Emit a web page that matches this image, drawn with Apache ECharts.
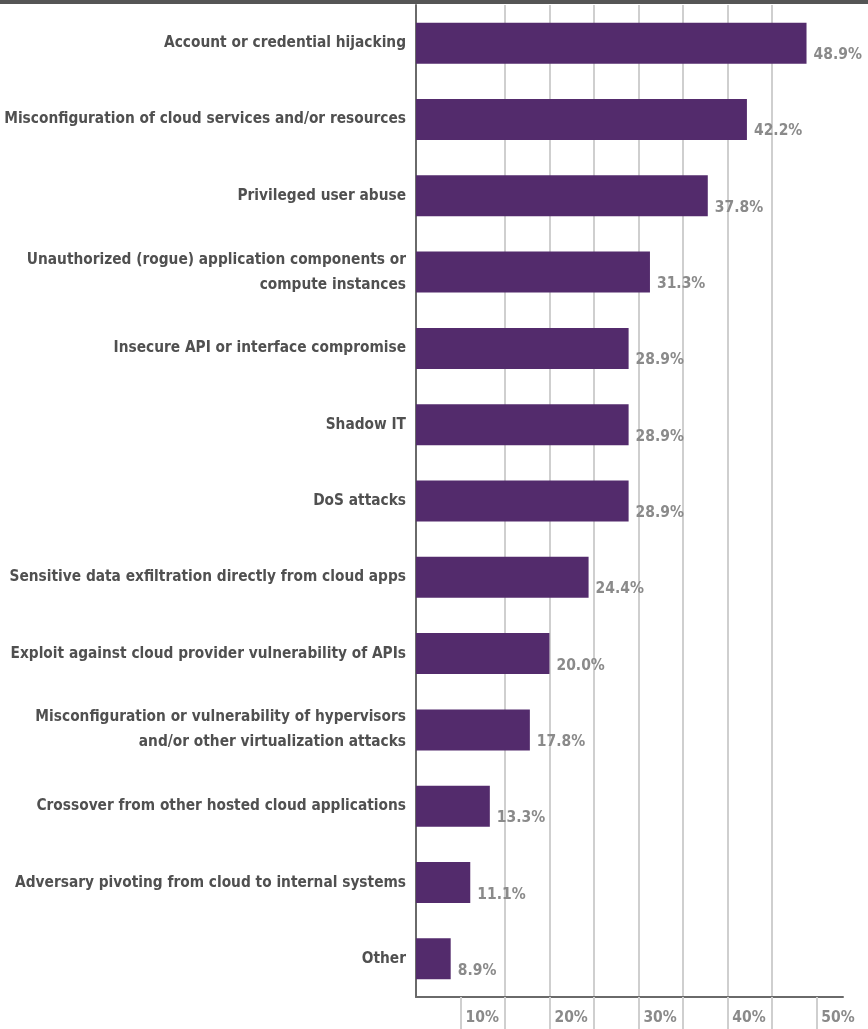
<!DOCTYPE html>
<html>
<head>
<meta charset="utf-8">
<script src="https://cdn.jsdelivr.net/npm/echarts@6/dist/echarts.min.js"></script>
<style>
  html, body { margin: 0; padding: 0; background: #fff; }
  #chart { width: 868px; height: 1029px; }
</style>
</head>
<body>
<div id="chart"></div>
<script>
// 数据
var categories = [
    'Account or credential hijacking',
    'Misconfiguration of cloud services and/or resources',
    'Privileged user abuse',
    'Unauthorized (rogue) application components or\ncompute instances',
    'Insecure API or interface compromise',
    'Shadow IT',
    'DoS attacks',
    'Sensitive data exfiltration directly from cloud apps',
    'Exploit against cloud provider vulnerability of APIs',
    'Misconfiguration or vulnerability of hypervisors\nand/or other virtualization attacks',
    'Crossover from other hosted cloud applications',
    'Adversary pivoting from cloud to internal systems',
    'Other'
]
var values = [48.9, 42.2, 37.8, 31.3, 28.9, 28.9, 28.9, 24.4, 20.0, 17.8, 13.3, 11.1, 8.9]
var tickValues = [10, 15, 20, 25, 30, 35, 40, 45, 50]
var tickLabels = [10, 20, 30, 40, 50]

var font = "'DejaVu Sans Condensed', sans-serif"

var myChart = echarts.init(document.getElementById('chart'))
myChart.setOption({
    animation: false,
    graphic: [{
        type: 'rect',
        left: 0, top: 0,
        shape: { width: 868, height: 4 },
        style: { fill: '#555' }
    }],
    grid: { left: 416, right: 25, top: 5, bottom: 32, outerBoundsMode: 'none', containLabel: false },
    xAxis: {
        type: 'value',
        min: 5,
        max: 53,
        interval: 5,
        axisLine: { show: true, lineStyle: { color: '#6a6a6a', width: 2 } },
        axisTick: {
            show: true,
            customValues: tickValues,
            length: 32,
            lineStyle: { color: '#cfcfcf', width: 2 }
        },
        splitLine: {
            show: true,
            showMinLine: false,
            showMaxLine: false,
            lineStyle: { color: '#cfcfcf', width: 2 }
        },
        axisLabel: {
            customValues: tickLabels,
            formatter: '{value}%',
            align: 'left',
            padding: [0, 0, 0, 5],
            margin: 13,
            color: '#8a8a8a',
            fontFamily: font,
            fontWeight: 'bold',
            fontSize: 15.5
        }
    },
    yAxis: {
        type: 'category',
        inverse: true,
        data: categories,
        axisLine: { show: true, lineStyle: { color: '#6a6a6a', width: 2 } },
        axisTick: { show: false },
        axisLabel: {
            margin: 10,
            align: 'right',
            color: '#505050',
            fontFamily: font,
            fontWeight: 'bold',
            fontSize: 15.3,
            lineHeight: 25
        }
    },
    series: [{
        type: 'bar',
        data: values,
        barWidth: 41,
        itemStyle: { color: '#532b6c' },
        label: {
            show: true,
            position: 'right',
            distance: 7,
            offset: [0, 12],
            formatter: function (p) { return p.value.toFixed(1) + '%' },
            color: '#8a8a8a',
            fontFamily: font,
            fontWeight: 'bold',
            fontSize: 15.5
        }
    }]
})
</script>
</body>
</html>
